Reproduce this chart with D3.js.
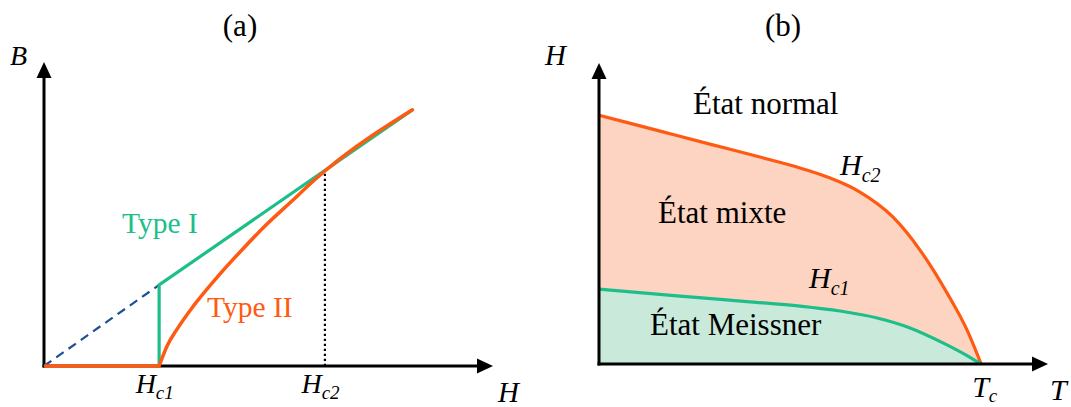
<!DOCTYPE html>
<html>
<head>
<meta charset="utf-8">
<script src="https://cdn.jsdelivr.net/npm/d3@7"></script>
<style>
  body { margin: 0; background: #fff; }
</style>
</head>
<body>
<svg id="chart" width="1071" height="407"></svg>
<script>
/* ---- data, panel (a): B as a function of H ---- */
var hc1 = 1, hc2 = 2.44;
var dashedH = [0, 1], dashedB = [0, 1];
var typeIH = [1, 1, 3.2], typeIB = [0, 1, 3.16];
var typeIIFlatH = [0, 1], typeIIFlatB = [0, 0];
var typeIIH = [1, 1.069, 1.156, 1.295, 1.503, 1.729, 1.937, 2.163, 2.311, 2.44, 3.2];
var typeIIB = [0, 0.247, 0.455, 0.735, 1.094, 1.447, 1.751, 2.047, 2.245, 2.405, 3.16];
var ticksA = [{ v: hc1, sub: "c1" }, { v: hc2, sub: "c2" }];

/* ---- data, panel (b): phase diagram H(T) ---- */
var tc = 1;
var hc2T = [0, 0.16, 0.29, 0.421, 0.526, 0.597, 0.683, 0.769, 0.84, 0.911, 0.963, 1];
var hc2H = [1, 0.936, 0.884, 0.832, 0.788, 0.752, 0.691, 0.591, 0.458, 0.285, 0.137, 0];
var hc1T = [0, 0.212, 0.387, 0.526, 0.631, 0.728, 0.814, 0.90, 0.963, 1];
var hc1H = [0.301, 0.273, 0.251, 0.233, 0.213, 0.185, 0.145, 0.085, 0.034, 0];

var orange = "#ff5a12", green = "#1dbe8a", blue = "#1f4f94";
var serif = "'Liberation Serif', 'Times New Roman', serif";

var svg = d3.select("#chart");

function zip(a, b) { return a.map(function(d, i) { return [d, b[i]]; }); }

// axis line with an arrow head at the far end
function arrowAxis(g, x1, y1, x2, y2) {
  var horiz = y1 == y2;
  g.append("line")
    .attr("x1", horiz ? x1 - 1.5 : x1).attr("y1", horiz ? y1 : y1 + 1.5)
    .attr("x2", horiz ? x2 - 8 : x2).attr("y2", horiz ? y2 : y2 + 8)
    .attr("stroke", "#000").attr("stroke-width", 3);
  var pts = horiz
    ? [[x2, y2], [x2 - 16, y2 - 7.5], [x2 - 16, y2 + 7.5]]
    : [[x2, y2], [x2 - 7.5, y2 + 16], [x2 + 7.5, y2 + 16]];
  g.append("polygon").attr("points", pts.join(" ")).attr("fill", "#000");
}

function label(g, x, y, main, sub, size, subSize, italic, dy) {
  var t = g.append("text").attr("x", x).attr("y", y)
    .style("font-family", serif)
    .style("font-size", size + "px")
    .style("font-style", italic ? "italic" : "normal")
    .style("fill", "#000");
  t.append("tspan").text(main);
  if (sub) t.append("tspan").attr("dy", dy).style("font-size", subSize + "px").text(sub);
  return t;
}

/* ================= panel (a) ================= */
var xa = d3.scaleLinear().domain([0, 3.9]).range([44, 493]);
var ya = d3.scaleLinear().domain([0, 3.75]).range([366, 62]);
var ga = svg.append("g");

var lineA = d3.line().x(function(d) { return xa(d[0]); }).y(function(d) { return ya(d[1]); });

// Hc2 dotted marker
ga.append("line")
  .attr("x1", xa(hc2)).attr("x2", xa(hc2))
  .attr("y1", ya(0)).attr("y2", ya(2.405))
  .attr("stroke", "#000").attr("stroke-width", 2.2).attr("stroke-dasharray", "2.2,2.8");

arrowAxis(ga, xa(0), ya(0), xa.range()[1], ya(0));
arrowAxis(ga, xa(0), ya(0), xa(0), ya.range()[1]);

ga.append("path").attr("d", lineA(zip(dashedH, dashedB)))
  .attr("fill", "none").attr("stroke", blue).attr("stroke-width", 2.2)
  .attr("stroke-dasharray", "9,6");

ga.append("path").attr("d", lineA(zip(typeIH, typeIB)))
  .attr("fill", "none").attr("stroke", green).attr("stroke-width", 3.2);

ga.append("path").attr("d", lineA(zip(typeIIFlatH, typeIIFlatB)))
  .attr("fill", "none").attr("stroke", orange).attr("stroke-width", 3.5);

ga.append("path").attr("d", lineA.curve(d3.curveMonotoneX)(zip(typeIIH, typeIIB)))
  .attr("fill", "none").attr("stroke", orange).attr("stroke-width", 3.5)
  .attr("stroke-linecap", "round");

// tick labels Hc1 / Hc2 through the bottom axis
var axA = ga.append("g").attr("transform", "translate(0," + ya(0) + ")")
  .call(d3.axisBottom(xa).tickValues(ticksA.map(function(d) { return d.v; }))
    .tickSize(0).tickFormat(""));
axA.select(".domain").remove();
axA.attr("font-family", null).attr("font-size", null);
axA.selectAll(".tick text").each(function(v, i) {
  var t = d3.select(this).attr("y", 27).attr("dy", null)
    .style("font-family", serif)
    .style("font-size", "28px").style("font-style", "italic")
    .attr("text-anchor", "start").attr("x", -24).attr("fill", "#000");
  t.append("tspan").text("H");
  t.append("tspan").attr("dy", 6).style("font-size", "19px").text(ticksA[i].sub);
});

label(ga, 240, 36, "(a)", null, 31).attr("text-anchor", "middle");
label(ga, 10, 65, "B", null, 28, 0, true);
label(ga, 498, 402, "H", null, 29, 0, true);
label(ga, 122, 233, "Type I", null, 29.5).style("fill", green);
label(ga, 207, 317, "Type II", null, 29.5).style("fill", orange);

/* ================= panel (b) ================= */
var xb = d3.scaleLinear().domain([0, 1.175]).range([599, 1048]);
var yb = d3.scaleLinear().domain([0, 1.21]).range([364, 63]);
var gb = svg.append("g");

var areaB = d3.area().curve(d3.curveMonotoneX)
  .x(function(d) { return xb(d[0]); }).y0(yb(0)).y1(function(d) { return yb(d[1]); });
var lineB = d3.line().curve(d3.curveMonotoneX)
  .x(function(d) { return xb(d[0]); }).y(function(d) { return yb(d[1]); });

gb.append("path").attr("d", areaB(zip(hc2T, hc2H))).attr("fill", "#fdd3c1");
gb.append("path").attr("d", areaB(zip(hc1T, hc1H))).attr("fill", "#c9eadb");
gb.append("path").attr("d", lineB(zip(hc2T, hc2H)))
  .attr("fill", "none").attr("stroke", orange).attr("stroke-width", 3.2);
gb.append("path").attr("d", lineB(zip(hc1T, hc1H)))
  .attr("fill", "none").attr("stroke", green).attr("stroke-width", 3.2);

arrowAxis(gb, xb(0), yb(0), xb.range()[1], yb(0));
arrowAxis(gb, xb(0), yb(0), xb(0), yb.range()[1]);

label(gb, 783, 36, "(b)", null, 31).attr("text-anchor", "middle");
label(gb, 545, 65, "H", null, 29, 0, true);
label(gb, 1050, 400, "T", null, 30, 0, true);
label(gb, xb(tc) - 9, 397, "T", "c", 30, 19, true, 5);
label(gb, 840, 175, "H", "c2", 30, 20, true, 7);
label(gb, 809, 288, "H", "c1", 30, 20, true, 7);
label(gb, 693, 114, "État normal", null, 31);
label(gb, 658, 223, "État mixte", null, 31);
label(gb, 650, 335, "État Meissner", null, 31);
</script>
</body>
</html>
